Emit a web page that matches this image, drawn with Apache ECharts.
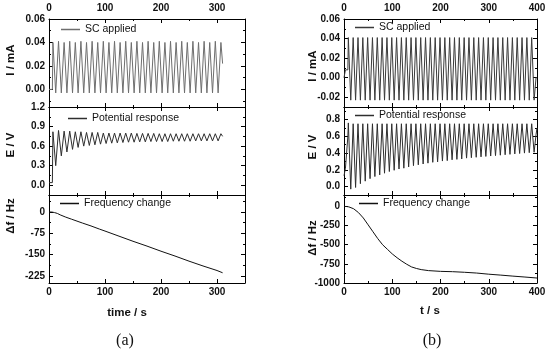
<!DOCTYPE html>
<html><head><meta charset="utf-8">
<script src="https://cdn.jsdelivr.net/npm/echarts@6/dist/echarts.min.js"></script>
<style>html,body{margin:0;padding:0;background:#fff}#c{width:550px;height:352px}</style>
</head><body><div id="c"></div>
<script>
// ---------- DATA ----------
// Panel (a): sample times (s) of the applied current / potential traces
const aTime = [0, 6, 7, 12, 17, 22, 27, 32, 37, 42, 47, 52, 57, 62, 67, 72, 77, 82, 87, 92, 97, 102, 107, 112, 117, 122, 127, 132, 137, 142, 147, 152, 157, 162, 167, 172, 177, 182, 187, 192, 197, 202, 207, 212, 217, 222, 227, 232, 237, 242, 247, 252, 257, 262, 267, 272, 277, 282, 287, 292, 297, 302, 307, 310];
const aCurrent = [0, 0,
  0.040, -0.003, 0.041, -0.003, 0.040, -0.003, 0.041, -0.003, 0.040, -0.003,
  0.041, -0.003, 0.040, -0.003, 0.041, -0.003, 0.040, -0.003, 0.041, -0.003,
  0.040, -0.003, 0.041, -0.003, 0.040, -0.003, 0.041, -0.003, 0.040, -0.003,
  0.041, -0.003, 0.040, -0.003, 0.041, -0.003, 0.040, -0.003, 0.041, -0.003,
  0.040, -0.003, 0.041, -0.003, 0.040, -0.003, 0.041, -0.003, 0.040, -0.003,
  0.041, -0.003, 0.040, -0.003, 0.041, -0.003, 0.040, -0.003, 0.041, -0.003,
  0.040, 0.022];
const aPotential = [0.04, 0.04,
  0.82, 0.30, 0.84, 0.45, 0.83, 0.51, 0.83, 0.55, 0.82, 0.58,
  0.82, 0.60, 0.81, 0.61, 0.81, 0.62, 0.81, 0.63, 0.80, 0.64,
  0.80, 0.645, 0.80, 0.65, 0.80, 0.655, 0.80, 0.66, 0.80, 0.66,
  0.795, 0.665, 0.795, 0.665, 0.795, 0.67, 0.795, 0.67, 0.79, 0.67,
  0.79, 0.67, 0.79, 0.675, 0.79, 0.675, 0.79, 0.675, 0.79, 0.675,
  0.79, 0.68, 0.79, 0.68, 0.79, 0.68, 0.79, 0.68, 0.79, 0.68,
  0.79, 0.75];
const aFreqTime = [0, 5, 10, 15, 20, 30, 40, 50, 60, 75, 90, 100, 125, 150, 175, 200, 225, 250, 275, 300, 310];
const aFreq = [0, 0, -2, -5, -10, -18, -25, -32, -39, -49, -60, -67, -85, -103, -120, -138, -155, -173, -190, -206, -214];

// Panel (b)
const bTime = [0, 3, 3, 8, 9, 14, 19, 24, 29, 34, 39, 44, 49, 54, 59, 64, 69, 74, 79, 84, 89, 94, 99, 104, 109, 114, 119, 124, 129, 134, 139, 144, 149, 154, 159, 164, 169, 174, 179, 184, 189, 194, 199, 204, 209, 214, 219, 224, 229, 234, 239, 244, 249, 254, 259, 264, 269, 274, 279, 284, 289, 294, 299, 304, 309, 314, 319, 324, 329, 334, 339, 344, 349, 354, 359, 364, 369, 374, 379, 384, 389, 394, 398, 400];
const bCurrent = [0, 0, 0.008, 0.008,
  0.041, -0.023, 0.041, -0.023, 0.041, -0.023, 0.041, -0.023, 0.041, -0.023,
  0.041, -0.023, 0.041, -0.023, 0.041, -0.023, 0.041, -0.023, 0.041, -0.023,
  0.041, -0.023, 0.041, -0.023, 0.041, -0.023, 0.041, -0.023, 0.041, -0.023,
  0.041, -0.023, 0.041, -0.023, 0.041, -0.023, 0.041, -0.023, 0.041, -0.023,
  0.041, -0.023, 0.041, -0.023, 0.041, -0.023, 0.041, -0.023, 0.041, -0.023,
  0.041, -0.023, 0.041, -0.023, 0.041, -0.023, 0.041, -0.023, 0.041, -0.023,
  0.041, -0.023, 0.041, -0.023, 0.041, -0.023, 0.041, -0.023, 0.041, -0.023,
  0.041, -0.023, 0.041, -0.023, 0.041, -0.023, 0.041, -0.023,
  0.0, 0.0];
const bPotential = [0.13, 0.22, 0.22, 0.60,
  0.76, -0.03, 0.75, -0.01, 0.75, 0.035, 0.75, 0.065, 0.75, 0.095,
  0.75, 0.12, 0.75, 0.14, 0.75, 0.16, 0.75, 0.18, 0.75, 0.195,
  0.75, 0.21, 0.75, 0.22, 0.75, 0.235, 0.75, 0.25, 0.75, 0.26,
  0.75, 0.27, 0.75, 0.28, 0.75, 0.29, 0.75, 0.295, 0.75, 0.305,
  0.75, 0.31, 0.75, 0.32, 0.75, 0.325, 0.75, 0.33, 0.75, 0.34,
  0.75, 0.345, 0.75, 0.35, 0.75, 0.355, 0.75, 0.36, 0.75, 0.365,
  0.75, 0.37, 0.75, 0.375, 0.75, 0.38, 0.75, 0.385, 0.75, 0.39,
  0.75, 0.395, 0.75, 0.40, 0.75, 0.405, 0.75, 0.41,
  0.62, 0.70];
const bFreqTime = [0, 5, 10, 20, 30, 40, 50, 60, 70, 80, 90, 100, 110, 120, 130, 140, 150, 160, 175, 200, 225, 250, 275, 300, 325, 350, 375, 400];
const bFreq = [0, 0, -5, -30, -80, -150, -240, -330, -420, -500, -560, -620, -670, -715, -755, -790, -810, -825, -838, -848, -852, -860, -870, -885, -897, -910, -922, -935];

// Tick values
const aXTicks = [0, 100, 200, 300];
const aXMinor = [50, 150, 250];
const bXTicks = [0, 100, 200, 300, 400];
const bXMinor = [50, 150, 250, 350];
const aITicks = [0, 0.02, 0.04, 0.06];
const aIMinor = [-0.01, 0.01, 0.03, 0.05];
const aETicks = [0, 0.3, 0.6, 0.9, 1.2];
const aEMinor = [0.15, 0.45, 0.75, 1.05];
const aFTicks = [-225, -150, -75, 0];
const aFMinor = [-187.5, -112.5, -37.5, 37.5];
const bITicks = [-0.02, 0, 0.02, 0.04, 0.06];
const bIMinor = [-0.01, 0.01, 0.03, 0.05];
const bETicks = [0, 0.2, 0.4, 0.6, 0.8];
const bEMinor = [0.1, 0.3, 0.5, 0.7, 0.9];
const bFTicks = [-1000, -750, -500, -250, 0];
const bFMinor = [-875, -625, -375, -125, 125];

// ---------- LAYOUT ----------
const grids = [
  {left: 49, top: 19, width: 196, height: 88},
  {left: 49, top: 107, width: 196, height: 88},
  {left: 49, top: 195, width: 196, height: 88},
  {left: 344, top: 19, width: 193, height: 88},
  {left: 344, top: 107, width: 193, height: 88},
  {left: 344, top: 195, width: 193, height: 88}
];
const labelFont = {fontFamily: 'Liberation Sans, Arial, sans-serif', fontWeight: 'bold', fontSize: 10, color: '#111'};
const xAxes = [], yAxes = [];
function addBox(gi, xr, xMaj, xMin, xLab, yr, yMaj, yMin, dec) {
  const base = {type: 'value', gridIndex: gi, splitLine: {show: false}};
  const xIdx = xAxes.length, yIdx = yAxes.length;
  ['bottom', 'top'].forEach(pos => {
    xAxes.push(Object.assign({}, base, {
      position: pos, min: xr[0], max: xr[1],
      axisLine: {show: true, onZero: false, lineStyle: {color: '#000', width: 1}},
      axisTick: {show: true, inside: true, length: 4, customValues: xMaj, lineStyle: {color: '#000'}},
      axisLabel: Object.assign({show: xLab === pos, customValues: xMaj, margin: pos === 'top' ? 6 : 4}, labelFont)
    }));
    xAxes.push(Object.assign({}, base, {
      position: pos, min: xr[0], max: xr[1],
      axisLine: {show: false, onZero: false},
      axisTick: {show: true, inside: true, length: 2, customValues: xMin, lineStyle: {color: '#000'}},
      axisLabel: {show: false}
    }));
  });
  ['left', 'right'].forEach(pos => {
    yAxes.push(Object.assign({}, base, {
      position: pos, min: yr[0], max: yr[1],
      axisLine: {show: true, onZero: false, lineStyle: {color: '#000', width: 1}},
      axisTick: {show: true, inside: true, length: 4, customValues: yMaj, lineStyle: {color: '#000'}},
      axisLabel: Object.assign({show: pos === 'left', customValues: yMaj, margin: 4,
        formatter: v => Number(v).toFixed(dec)}, labelFont)
    }));
    yAxes.push(Object.assign({}, base, {
      position: pos, min: yr[0], max: yr[1],
      axisLine: {show: false, onZero: false},
      axisTick: {show: true, inside: true, length: 2, customValues: yMin, lineStyle: {color: '#000'}},
      axisLabel: {show: false}
    }));
  });
  return {x: xIdx, y: yIdx};
}
const ax = [
  addBox(0, [0, 350], aXTicks, aXMinor, 'top', [-0.015, 0.06], aITicks, aIMinor, 2),
  addBox(1, [0, 350], aXTicks, aXMinor, '', [-0.15, 1.2], aETicks, aEMinor, 1),
  addBox(2, [0, 350], aXTicks, aXMinor, 'bottom', [-250, 60], aFTicks, aFMinor, 0),
  addBox(3, [0, 400], bXTicks, bXMinor, 'top', [-0.03, 0.06], bITicks, bIMinor, 2),
  addBox(4, [0, 400], bXTicks, bXMinor, '', [-0.1, 0.95], bETicks, bEMinor, 1),
  addBox(5, [0, 400], bXTicks, bXMinor, 'bottom', [-1000, 150], bFTicks, bFMinor, 0)
];
function zip(t, v) { return t.map((x, i) => [x, v[i]]); }
const colCurA = '#6e6e6e', colPot = '#2e2e2e', colFreq = '#111', colCurB = '#3a3a3a';
function line(name, k, data, color) {
  return {type: 'line', name, xAxisIndex: ax[k].x, yAxisIndex: ax[k].y, data, showSymbol: false, symbol: 'none',
    lineStyle: {color, width: 1}, itemStyle: {color}, animation: false};
}
const series = [
  line('SC applied', 0, zip(aTime, aCurrent), colCurA),
  line('Potential response', 1, zip(aTime, aPotential), colPot),
  line('Frequency change', 2, zip(aFreqTime, aFreq), colFreq),
  line('SC applied', 3, zip(bTime, bCurrent), colCurB),
  line('Potential response', 4, zip(bTime, bPotential), colPot),
  line('Frequency change', 5, zip(bFreqTime, bFreq), colFreq)
];
function leg(name, color, left, top) {
  return {data: [{name, itemStyle: {color}}], left, top, padding: 0, icon: 'rect', itemWidth: 19, itemHeight: 1.5,
    selectedMode: false, textStyle: {fontFamily: 'Liberation Sans, Arial, sans-serif', fontSize: 10.5, color: '#111'}};
}
const legends = [
  leg('SC applied', colCurA, 61, 24),
  leg('Potential response', colPot, 68, 113),
  leg('Frequency change', colFreq, 60, 198),
  leg('SC applied', colCurB, 355, 22),
  leg('Potential response', colPot, 355, 110),
  leg('Frequency change', colFreq, 359, 198)
];
const nameFont = 'bold 11.5px "Liberation Sans", Arial, sans-serif';
function vtext(text, x, y) {
  return {type: 'text', x, y, rotation: Math.PI / 2, style: {text, font: nameFont, fill: '#111', textAlign: 'center', textVerticalAlign: 'middle'}};
}
function htext(text, x, y, font) {
  return {type: 'text', x, y, style: {text, font: font || nameFont, fill: '#111', textAlign: 'center', textVerticalAlign: 'middle'}};
}
const graphic = [
  vtext('I / mA', 11, 60), vtext('E / V', 11, 145), vtext('\u0394f / Hz', 11, 216),
  vtext('I / mA', 313, 66), vtext('E / V', 313, 147), vtext('\u0394f / Hz', 313, 238),
  htext('time / s', 127, 313), htext('t / s', 430, 311),
  htext('(a)', 125, 341, '16px "Liberation Serif", serif'),
  htext('(b)', 432, 341, '16px "Liberation Serif", serif')
];
const chart = echarts.init(document.getElementById('c'), null, {renderer: 'canvas'});
chart.setOption({
  animation: false,
  backgroundColor: '#fff',
  grid: grids,
  xAxis: xAxes,
  yAxis: yAxes,
  legend: legends,
  series,
  graphic
});
</script></body></html>
